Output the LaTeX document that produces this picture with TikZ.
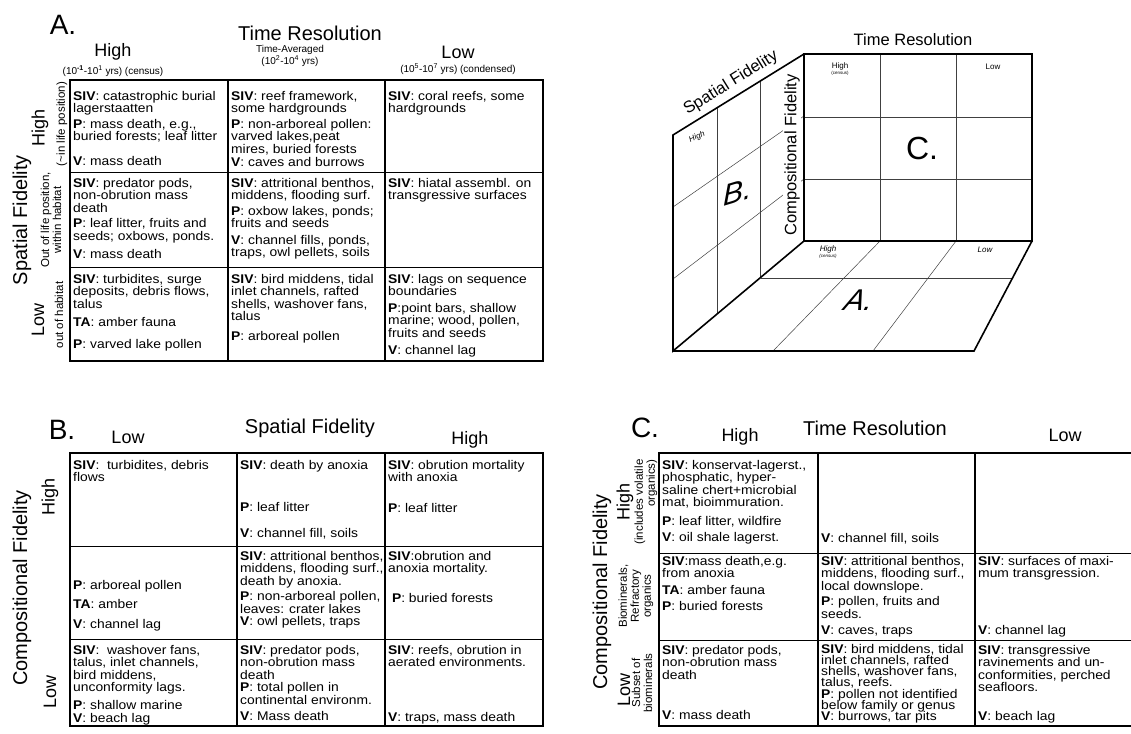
\documentclass[tikz,border=0pt]{standalone}
\usepackage{fontspec}
\setmainfont{Liberation Sans}
\newfontfamily\cellfont[FakeStretch=1.1]{Liberation Sans}
\usetikzlibrary{positioning,calc}

\begin{document}
\begin{tikzpicture}[x=1pt, y=-1pt,
	cell/.style={anchor=north west, align=left, inner sep=0pt, font=\cellfont\fontsize{12.6}{12.5}\selectfont},
	big/.style={font=\fontsize{28}{28}\selectfont},
	axis/.style={font=\fontsize{20}{20}\selectfont},
	lvl/.style={font=\fontsize{18}{18}\selectfont},
	note/.style={font=\fontsize{11.5}{12}\selectfont, align=center, inner sep=0pt},
	tiny/.style={font=\fontsize{10}{11}\selectfont, align=center, inner sep=0pt},
	frame/.style={line width=1.6pt},
	vdiv/.style={line width=1.3pt},
	hdiv/.style={line width=0.9pt},
	grid/.style={line width=0.5pt, black!75}]
	\useasboundingbox (0,0) rectangle (1131,733);

	% ---------------- panel A
	\node[big] (lA) at (63,25) {A.};
	\node[axis] (tA) at (310,33) {Time Resolution};
	\node[lvl] (hiA) at (113,52) {High};
	\node[tiny, below=2pt of hiA] (hiAs) {(10\textsuperscript{\textbf{-1}}-10\textsuperscript{1} yrs) (census)};
	\node[tiny] (avA) at (290,50) {Time-Averaged};
	\node[tiny, below=1pt of avA] (avAs) {(10\textsuperscript{2}-10\textsuperscript{4} yrs)};
	\node[lvl] (loA) at (458,52) {Low};
	\node[tiny, below=2pt of loA] (loAs) {(10\textsuperscript{5}-10\textsuperscript{7} yrs) (condensed)};
	\node[axis, rotate=90] (sA) at (22,220) {Spatial Fidelity};
	\node[lvl, rotate=90] (r1A) at (40,128) {High};
	\node[note, rotate=90] (r1As) at (62,124) {(\textasciitilde in life position)};
	\node[note, rotate=90] (r2A) at (51,220) {Out of life position,\\within habitat};
	\node[lvl, rotate=90] (r3A) at (38,320) {Low};
	\node[note, rotate=90] (r3As) at (59,315) {out of habitat};

	\draw[frame] (70,80) rectangle (543,361);
	\foreach \x in {228,385}
		\draw[vdiv] (\x,80) -- (\x,361);
	\foreach \y in {172,267}
		\draw[hdiv] (70,\y) -- (543,\y);

	\node[cell] (a11) at (73,91) {\textbf{SIV}: catastrophic burial\\lagerstaatten\\[3pt]\textbf{P}: mass death, e.g.,\\buried forests; leaf litter\\[12pt]\textbf{V}: mass death};
	\node[cell] (a12) at (231,91) {\textbf{SIV}: reef framework,\\some hardgrounds\\[3pt]\textbf{P}: non-arboreal pollen:\\varved lakes,peat\\mires, buried forests\\[1pt]\textbf{V}: caves and burrows};
	\node[cell] (a13) at (388,91) {\textbf{SIV}: coral reefs, some\\hardgrounds};
	\node[cell] (a21) at (73,178) {\textbf{SIV}: predator pods,\\non-obrution mass\\death\\[3pt]\textbf{P}: leaf litter, fruits and\\seeds; oxbows, ponds.\\[6pt]\textbf{V}: mass death};
	\node[cell] (a22) at (231,178) {\textbf{SIV}: attritional benthos,\\middens, flooding surf.\\[3pt]\textbf{P}: oxbow lakes, ponds;\\fruits and seeds\\[4pt]\textbf{V}: channel fills, ponds,\\traps, owl pellets, soils};
	\node[cell] (a23) at (388,178) {\textbf{SIV}: hiatal assembl. on\\transgressive surfaces};
	\node[cell] (a31) at (73,274) {\textbf{SIV}: turbidites, surge\\deposits, debris flows,\\talus\\[6pt]\textbf{TA}: amber fauna\\[9pt]\textbf{P}: varved lake pollen};
	\node[cell] (a32) at (231,274) {\textbf{SIV}: bird middens, tidal\\inlet channels, rafted\\shells, washover fans,\\talus\\[7pt]\textbf{P}: arboreal pollen};
	\node[cell] (a33) at (388,274) {\textbf{SIV}: lags on sequence\\boundaries\\[4pt]\textbf{P}:point bars, shallow\\marine; wood, pollen,\\fruits and seeds\\[5pt]\textbf{V}: channel lag};

	% ---------------- cube
	\coordinate (k1) at (804,54);
	\coordinate (k2) at (1032,54);
	\coordinate (k3) at (1032,241);
	\coordinate (k4) at (804,241);
	\coordinate (k5) at (673,135);
	\coordinate (k6) at (673,351);
	\coordinate (k7) at (974,351);
	\foreach \x in {880,956}
		\draw[grid] (\x,54) -- (\x,241);
	\foreach \y in {117,179}
		\draw[grid] (804,\y) -- (1032,\y);
	\draw[grid] (717,108) -- (717,314);
	\draw[grid] (760,81) -- (760,278);
	\draw[grid] (673,207) -- (804,116);
	\draw[grid] (673,279) -- (804,179);
	\draw[grid] (880,241) -- (773,351);
	\draw[grid] (956,241) -- (873,351);
	\draw[grid] (761,278) -- (1013,278);
	\draw[frame] (k1) rectangle (k3);
	\draw[frame] (k1) -- (k5) -- (k6) -- (k4);
	\draw[frame] (k6) -- (k7) -- (k3);

	\node[font=\fontsize{16.5}{16.5}\selectfont] (tC) at (913,40) {Time Resolution};
	\node[font=\fontsize{16.5}{16.5}\selectfont, rotate=31.7] (sC) at (731,83) {Spatial Fidelity};
	\node[font=\fontsize{16.5}{16.5}\selectfont, rotate=90, fill=white, inner sep=1pt] (cC) at (792,155) {Compositional Fidelity};
	\node[font=\fontsize{8}{8}\selectfont, inner sep=0pt] (hC) at (840,66) {High};
	\node[font=\fontsize{4.5}{5}\selectfont, below=1pt of hC, inner sep=0pt] (hCs) {(census)};
	\node[font=\fontsize{8}{8}\selectfont, inner sep=0pt] (lC) at (993,67) {Low};
	\node[font=\fontsize{32}{32}\selectfont] (CC) at (922,148) {C.};
	\node[font=\itshape\fontsize{30}{30}\selectfont, yslant=0.3] (BB) at (738,192) {B.};
	\node[font=\itshape\fontsize{8}{8}\selectfont, rotate=25] (hB) at (697,137) {High};
	\node[font=\fontsize{30}{30}\selectfont, xslant=0.45] (AA) at (860,300) {A.};
	\node[font=\itshape\fontsize{8}{8}\selectfont, inner sep=0pt] (hF) at (828,249) {High};
	\node[font=\itshape\fontsize{4.5}{5}\selectfont, below=1pt of hF, inner sep=0pt] (hFs) {(census)};
	\node[font=\itshape\fontsize{8}{8}\selectfont, inner sep=0pt] (lF) at (985,250) {Low};

	% ---------------- panel B
	\node[big] (lB) at (62,430) {B.};
	\node[lvl] (loB) at (128,437) {Low};
	\node[axis] (tB) at (310,428) {Spatial Fidelity};
	\node[lvl] (hiB) at (470,440) {High};
	\node[axis, rotate=90] (sB) at (22,588) {Compositional Fidelity};
	\node[lvl, rotate=90] (r1B) at (50,497) {High};
	\node[lvl, rotate=90] (r3B) at (50,692) {Low};

	\draw[frame] (70,453) rectangle (543,726);
	\foreach \x in {237,385}
		\draw[vdiv] (\x,453) -- (\x,726);
	\foreach \y in {546,639}
		\draw[hdiv] (70,\y) -- (543,\y);

	\node[cell] (b11) at (73,460) {\textbf{SIV}:\ \ turbidites, debris\\flows};
	\node[cell] (b12) at (240,460) {\textbf{SIV}: death by anoxia\\[30pt]\textbf{P}: leaf litter\\[13pt]\textbf{V}: channel fill, soils};
	\node[cell] (b13) at (388,460) {\textbf{SIV}: obrution mortality\\with anoxia\\[18pt]\textbf{P}: leaf litter};
	\node[cell] (b21) at (73,580) {\textbf{P}: arboreal pollen\\[7pt]\textbf{TA}: amber\\[7pt]\textbf{V}: channel lag};
	\node[cell] (b22) at (240,551) {\textbf{SIV}: attritional benthos,\\middens, flooding surf.,\\death by anoxia.\\[3pt]\textbf{P}: non-arboreal pollen,\\leaves: crater lakes\\\textbf{V}: owl pellets, traps};
	\node[cell] (b23) at (388,551) {\textbf{SIV}:obrution and\\anoxia mortality.\\[17pt]\ \textbf{P}: buried forests};
	\node[cell] (b31) at (73,645) {\textbf{SIV}:\ \ washover fans,\\talus, inlet channels,\\bird middens,\\unconformity lags.\\[5pt]\textbf{P}: shallow marine\\[1pt]\textbf{V}: beach lag};
	\node[cell] (b32) at (240,645) {\textbf{SIV}: predator pods,\\non-obrution mass\\death\\\textbf{P}: total pollen in\\continental environm.\\[4pt]\textbf{V}: Mass death};
	\node[cell] (b33) at (388,645) {\textbf{SIV}: reefs, obrution in\\aerated environments.\\[42pt]\textbf{V}: traps, mass death};

	% ---------------- panel C
	\node[big] (lCC) at (645,428) {C.};
	\node[lvl] (hiC) at (740,437) {High};
	\node[axis] (tCC) at (875,428) {Time Resolution};
	\node[lvl] (loC) at (1065,435) {Low};
	\node[axis, rotate=90] (sCC) at (602,592) {Compositional Fidelity};
	\node[lvl, rotate=90] (r1C) at (625,502) {High};
	\node[note, rotate=90, align=right] (r1Cs) at (646,502) {(includes volatile\\organics)};
	\node[note, rotate=90] (r2Cs) at (636,596) {Biominerals,\\Refractory\\organics};
	\node[lvl, rotate=90] (r3C) at (624,690) {Low};
	\node[note, rotate=90] (r3Cs) at (642,683) {Subset of\\biominerals};

	\draw[frame] (1131,453) -- (659,453) -- (659,726) -- (1131,726);
	\foreach \x in {818,975}
		\draw[vdiv] (\x,453) -- (\x,726);
	\foreach \y in {553,640}
		\draw[hdiv] (659,\y) -- (1131,\y);

	\node[cell] (c11) at (662,460) {\textbf{SIV}: konservat-lagerst.,\\phosphatic, hyper-\\saline chert+microbial\\mat, bioimmuration.\\[6pt]\textbf{P}: leaf litter, wildfire\\[4pt]\textbf{V}: oil shale lagerst.};
	\node[cell] (c12) at (821,533) {\textbf{V}: channel fill, soils};
	\node[cell] (c21) at (662,556) {\textbf{SIV}:mass death,e.g.\\from anoxia\\[4pt]\textbf{TA}: amber fauna\\[4pt]\textbf{P}: buried forests};
	\node[cell] (c22) at (821,556) {\textbf{SIV}: attritional benthos,\\middens, flooding surf.,\\local downslope.\\[3pt]\textbf{P}: pollen, fruits and\\seeds.\\[4pt]\textbf{V}: caves, traps};
	\node[cell] (c23) at (978,556) {\textbf{SIV}: surfaces of maxi-\\mum transgression.\\[44pt]\textbf{V}: channel lag};
	\node[cell] (c31) at (662,645) {\textbf{SIV}: predator pods,\\non-obrution mass\\death\\[28pt]\textbf{V}: mass death};
	\node[cell] (c32) at (821,644) {\textbf{SIV}: bird middens, tidal\\[-1.3pt]inlet channels, rafted\\[-1.3pt]shells, washover fans,\\[-1.3pt]talus, reefs.\\[-1.3pt]\textbf{P}: pollen not identified\\[-1.3pt]below family or genus\\[-1.3pt]\textbf{V}: burrows, tar pits};
	\node[cell] (c33) at (978,645) {\textbf{SIV}: transgressive\\ravinements and un-\\conformities, perched\\seafloors.\\[16pt]\textbf{V}: beach lag};
\end{tikzpicture}
\end{document}
